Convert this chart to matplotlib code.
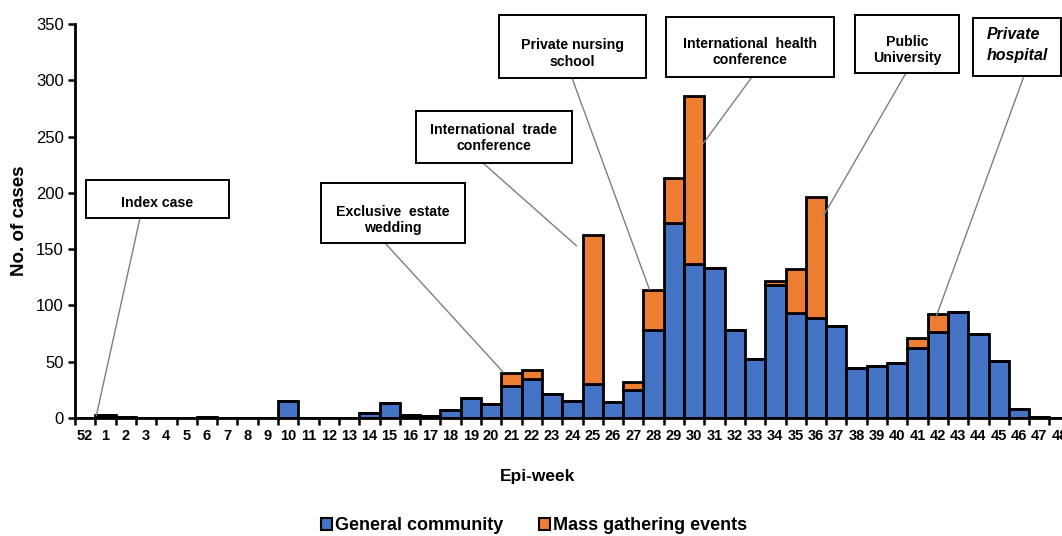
import matplotlib
matplotlib.use("Agg")
import matplotlib.pyplot as plt
from matplotlib.patches import Rectangle, Patch
import numpy as np

plt.rcParams['font.family'] = ['Liberation Sans', 'DejaVu Sans']

weeks = ["52"] + [str(i) for i in range(1, 49)]
general = [0, 3, 1, 0, 0, 0, 1, 0, 0, 0, 15, 0, 0, 0, 4, 13, 3, 2, 7, 18, 12,
           28, 35, 21, 15, 30, 14, 25, 78, 173, 137, 133, 78, 52, 118, 93, 89,
           82, 44, 46, 49, 62, 76, 94, 75, 51, 8, 1, 0]
mass = [0, 0, 0, 0, 0, 0, 0, 0, 0, 0, 0, 0, 0, 0, 0, 0, 0, 0, 0, 0, 0,
        12, 8, 0, 0, 133, 0, 7, 36, 40, 149, 0, 0, 0, 4, 39, 107,
        0, 0, 0, 0, 9, 16, 0, 0, 0, 0, 0, 0]

# (label, target week, offset within bar, target value, box px (x0, y0, x1, y1),
#  anchor px, text vertical shift px, italic)
annotations = [
    ("Index case", "1", -0.45, 2, (86, 180, 229, 218), (140, 218), 4, False),
    ("Exclusive  estate\nwedding", "21", -0.42, 41, (321, 183, 465, 243), (385, 243), 7, False),
    ("International  trade\nconference", "25", -0.8, 153, (416, 111, 572, 163), (483, 163), 1, False),
    ("Private nursing\nschool", "28", -0.2, 114, (499, 15, 646, 78), (572, 78), 7, False),
    ("International  health\nconference", "30", 0.45, 244, (666, 17, 834, 77), (752, 77), 5, False),
    ("Public\nUniversity", "36", 0.35, 179, (855, 15, 959, 73), (906, 73), 6, False),
    ("Private\nhospital", "42", -0.1, 89, (973, 18, 1061, 76), (1024, 76), -2, True),
]

W, H = 1062, 536
fig = plt.figure(figsize=(W / 100, H / 100), dpi=100)
x0, x1 = 75, 75 + 49 * 20.3
y0, y1 = 418, 24
ax = fig.add_axes([x0 / W, (H - y0) / H, (x1 - x0) / W, (y0 - y1) / H])

x = np.arange(len(weeks))
blue = "#4472C4"
orange = "#ED7D31"
ax.bar(x, general, width=1.0, color=blue, edgecolor="black", linewidth=2.0, zorder=3)
ax.bar(x, mass, width=1.0, bottom=general, color=orange, edgecolor="black",
       linewidth=2.0, zorder=3)

ax.set_xlim(-0.5, len(weeks) - 0.5)
ax.set_ylim(0, 350)
ax.set_yticks(np.arange(0, 351, 50))
ax.tick_params(axis='y', labelsize=12, width=1.8, length=5, pad=3, direction='out')
ax.set_xticks(x)
ax.set_xticklabels(weeks, fontsize=10.5, fontweight='bold')
ax.tick_params(axis='x', which='major', length=0, pad=8)
ax.set_xticks(np.arange(-0.5, len(weeks), 1.0), minor=True)
ax.tick_params(axis='x', which='minor', length=5, width=1.8, direction='out')
for s in ['top', 'right']:
    ax.spines[s].set_visible(False)
for s in ['left', 'bottom']:
    ax.spines[s].set_linewidth(2.0)
    ax.spines[s].set_zorder(4)

ax.set_ylabel("No. of cases", fontsize=13.5, fontweight='bold', labelpad=6)
fig.text(538 / W, (H - 477) / H, "Epi-week", fontsize=12.5, fontweight='bold',
         ha='center', va='center')

# annotations
for label, wk, off, val, (bx0, by0, bx1, by1), (axp, ayp), dy, ital in annotations:
    rect = Rectangle((bx0 / W, (H - by1) / H), (bx1 - bx0) / W, (by1 - by0) / H,
                     transform=fig.transFigure, facecolor='white', edgecolor='black',
                     linewidth=1.4, zorder=10)
    fig.patches.append(rect)
    idx = weeks.index(wk)
    ax.annotate("", xy=(idx + off, val), xycoords='data',
                xytext=(axp / W, (H - ayp) / H), textcoords='figure fraction',
                arrowprops=dict(arrowstyle='-', color='#7f7f7f', lw=1.0,
                                shrinkA=0, shrinkB=0), zorder=5, annotation_clip=False)
    cy = (H - (by0 + by1) / 2 - dy) / H
    if ital:
        fig.text((bx0 + 14) / W, cy, label, fontsize=11.5,
                 fontweight='bold', fontstyle='italic', ha='left', va='center',
                 linespacing=1.45, zorder=11)
    else:
        fig.text((bx0 + bx1) / 2 / W, cy, label, fontsize=10.2,
                 fontweight='bold', ha='center', va='center', linespacing=1.2,
                 zorder=11)

handles = [Patch(facecolor=blue, edgecolor='black', linewidth=1.5, label='General community'),
           Patch(facecolor=orange, edgecolor='black', linewidth=1.5, label='Mass gathering events')]
fig.legend(handles=handles, loc='center', bbox_to_anchor=(534 / W, (H - 526) / H),
           ncol=2, frameon=False, prop=dict(weight='bold', size=13),
           handlelength=0.6, handleheight=0.6, handletextpad=0.15, columnspacing=2.0)

fig.savefig("out.png", dpi=100)
